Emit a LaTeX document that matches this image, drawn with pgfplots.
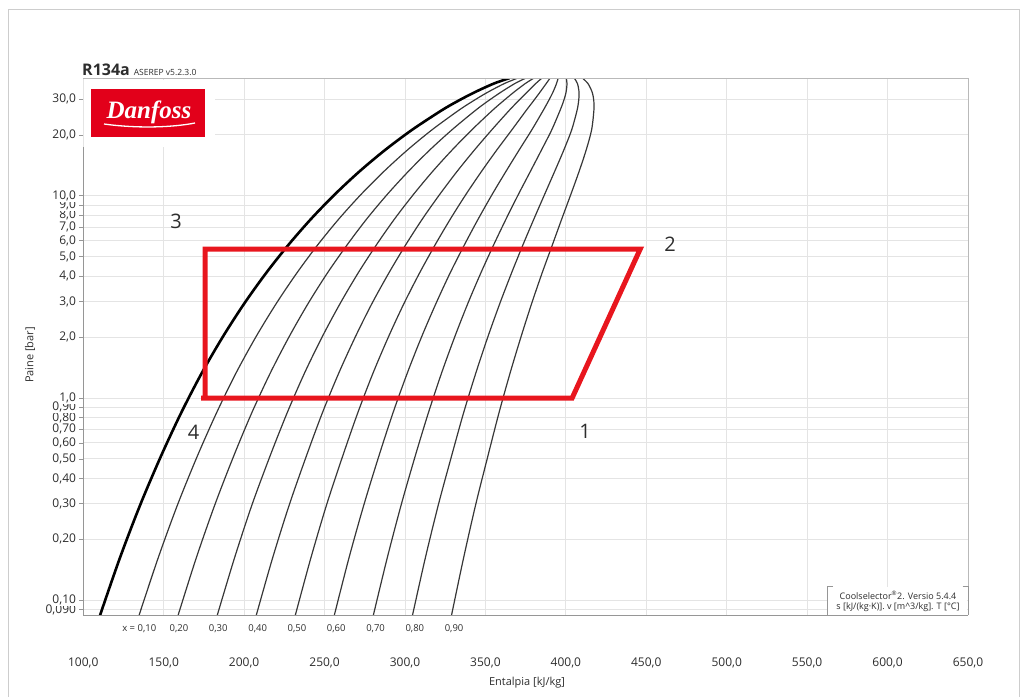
\documentclass[border=0pt]{standalone}
\usepackage{fontspec}
\setmainfont{Open Sans}
\newfontfamily\logofont{Liberation Serif}
\usepackage{pgfplots}
\usepackage{pgfplotstable}
\pgfplotsset{compat=1.18}

\definecolor{gridgray}{RGB}{228,228,228}
\definecolor{axisgray}{RGB}{150,150,150}
\definecolor{bordergray}{RGB}{185,185,185}
\definecolor{framegray}{RGB}{205,205,205}
\definecolor{cyclered}{RGB}{232,22,30}
\definecolor{logored}{RGB}{226,0,26}
\definecolor{curvegray}{RGB}{55,55,55}
\definecolor{labelgray}{RGB}{45,45,45}

% R134a saturation: pressure [bar], liquid enthalpy and lines of constant quality x = 0.1 ... 0.9 [kJ/kg]
\pgfplotstableread{
p      hl    q1    q2    q3    q4    q5    q6    q7    q8    q9
0.0799 109.4 133.7 158.0 182.4 206.7 231.0 255.3 279.6 304.0 328.3
0.1591 122.4 146.2 169.9 193.7 217.4 241.2 264.9 288.7 312.4 336.2
0.2940 135.2 158.4 181.6 204.7 227.9 251.1 274.3 297.5 320.6 343.8
0.5121 148.1 170.7 193.3 215.9 238.5 261.1 283.6 306.2 328.8 351.4
0.8438 160.8 182.8 204.7 226.7 248.6 270.6 292.5 314.5 336.4 358.4
1.3273 173.6 194.9 216.2 237.5 258.8 280.1 301.4 322.7 344.0 365.3
2.0060 186.7 207.3 227.9 248.5 269.1 289.7 310.3 330.9 351.5 372.1
2.9280 200.0 219.9 239.7 259.6 279.4 299.3 319.2 339.0 358.9 378.7
4.1460 213.6 232.7 251.7 270.8 289.9 309.0 328.0 347.1 366.2 385.2
5.7170 227.5 245.7 264.0 282.2 300.4 318.7 336.9 355.1 373.3 391.6
7.7020 241.7 259.0 276.3 293.6 310.9 328.3 345.6 362.9 380.2 397.5
10.166 256.4 272.7 289.0 305.3 321.6 337.9 354.2 370.5 386.8 403.1
13.179 271.6 286.8 302.0 317.1 332.3 347.5 362.7 377.9 393.0 408.2
16.818 287.5 301.4 315.3 329.2 343.1 357.0 370.9 384.8 398.7 412.6
21.168 304.3 316.7 329.1 341.5 353.9 366.4 378.8 391.2 403.6 416.0
26.332 322.4 333.0 343.5 354.1 364.6 375.2 385.8 396.3 406.9 417.4
29.260 332.3 341.8 351.2 360.7 370.1 379.6 389.0 398.5 407.9 417.4
32.442 343.1 351.2 359.4 367.5 375.7 383.8 391.9 400.1 408.2 416.4
35.910 355.3 361.8 368.3 374.8 381.3 387.8 394.2 400.7 407.2 413.7
38.180 365.0 370.0 375.1 380.1 385.1 390.2 395.2 400.2 405.2 410.3
}\satdata

\tikzset{qlab/.style={font=\fontsize{9.5}{10}\selectfont, text=labelgray, anchor=base, yshift=-16.5pt}}

\begin{document}
\begin{tikzpicture}[x=1pt,y=1pt]
\useasboundingbox (0,0) rectangle (1027,696);
% window frame
\draw[framegray, line width=1pt] (8,-2) -- (8,686.5) -- (1019,686.5) -- (1019,-2);

\begin{axis}[
  at={(83.3pt,80.7pt)}, anchor=south west,
  scale only axis, width=884.7pt, height=536.3pt,
  xmin=100, xmax=650, ymin=0.0843, ymax=37.8,
  ymode=log, log basis y=10,
  axis line style={draw=none},
  grid=major, major grid style={gridgray, line width=1pt},
  yminorticks=false, xminorticks=false,
  xtick={100,150,200,250,300,350,400,450,500,550,600,650},
  xticklabels={{100,0},{150,0},{200,0},{250,0},{300,0},{350,0},{400,0},{450,0},{500,0},{550,0},{600,0},{650,0}},
  ytick={0.09,0.1,0.2,0.3,0.4,0.5,0.6,0.7,0.8,0.9,1,2,3,4,5,6,7,8,9,10,20,30},
  yticklabels={{0,090},{0,10},{0,20},{0,30},{0,40},{0,50},{0,60},{0,70},{0,80},{0,90},{1,0},{2,0},{3,0},{4,0},{5,0},{6,0},{7,0},{8,0},{9,0},{10,0},{20,0},{30,0}},
  ytick pos=left, xtick pos=bottom,
  tick align=outside, major tick length=4pt,
  xtick style={draw=none},
  ytick style={axisgray, line width=0.8pt},
  yticklabel style={font=\fontsize{12}{12}\selectfont, text=labelgray, fill=white, inner sep=0.6pt, xshift=-2.5pt},
  xticklabel style={font=\fontsize{12}{12}\selectfont, text=labelgray, anchor=base, yshift=-47pt},
  clip mode=individual,
]
% saturated liquid line
\addplot[black, line width=2.6pt, smooth] table[x=hl, y=p] {\satdata};
% constant quality lines
\pgfplotsinvokeforeach{q1,q2,q3,q4,q5,q6,q7,q8,q9}{
  \addplot[curvegray, line width=1.2pt, smooth] table[x=#1, y=p] {\satdata};
}
% refrigeration cycle
\addplot[cyclered, line width=5pt, line join=miter] coordinates {
  (175.7,1.0) (175.7,5.45) (446.2,5.45) (403.9,1.0) (173.2,1.0)
};
% quality labels along the lower edge
\node[qlab] at (axis cs:134.8,0.0843) {x = 0,10};
\node[qlab] at (axis cs:159.5,0.0843) {0,20};
\node[qlab] at (axis cs:183.9,0.0843) {0,30};
\node[qlab] at (axis cs:208.4,0.0843) {0,40};
\node[qlab] at (axis cs:232.8,0.0843) {0,50};
\node[qlab] at (axis cs:257.2,0.0843) {0,60};
\node[qlab] at (axis cs:281.7,0.0843) {0,70};
\node[qlab] at (axis cs:306.1,0.0843) {0,80};
\node[qlab] at (axis cs:330.5,0.0843) {0,90};
\end{axis}

% logo panel
\fill[white] (83.9,549) rectangle (215,615.5);
\fill[logored] (91,559) rectangle (205,607);
\node[text=white, font=\logofont\bfseries\itshape\fontsize{25}{25}\selectfont] at (149,584) {Danfoss};
\draw[white, line width=1.3pt] (104,572) .. controls (140,567) and (175,569) .. (195,573);

% plot frame
\draw[bordergray, line width=1pt] (83.3,617) -- (968,617) -- (968,80.7);
\draw[axisgray, line width=1.5pt] (83.3,549) -- (83.3,80.7) -- (968,80.7);

% title
\node[anchor=base west, inner sep=0pt, text=labelgray] at (82,620) {\fontsize{16}{16}\selectfont\bfseries R134a\hspace{4pt}\fontsize{8.5}{9}\selectfont\mdseries ASEREP v5.2.3.0};

% axis titles
\node[rotate=90, font=\fontsize{11}{11}\selectfont, text=labelgray] at (30,341) {Paine [bar]};
\node[font=\fontsize{11}{11}\selectfont, text=labelgray] at (527,13) {Entalpia [kJ/kg]};

% cycle state numbers
\node[font=\fontsize{20}{20}\selectfont, text=labelgray] at (176,475) {3};
\node[font=\fontsize{20}{20}\selectfont, text=labelgray] at (670,452) {2};
\node[font=\fontsize{20}{20}\selectfont, text=labelgray] at (193.5,264) {4};
\node[font=\fontsize{20}{20}\selectfont, text=labelgray] at (585,265) {1};

% version box
\fill[white] (827.7,80.7) rectangle (967.3,109.3);
\draw[axisgray, line width=0.8pt] (833,109.3) -- (827.7,109.3) -- (827.7,80.7);
\draw[axisgray, line width=0.8pt] (962.5,109.3) -- (968,109.3) -- (968,80.7);
\node[font=\fontsize{9}{9}\selectfont, text=labelgray] at (898,101) {Coolselector\textsuperscript{\textregistered}2. Versio 5.4.4};
\node[font=\fontsize{9}{9}\selectfont, text=labelgray] at (898,89) {s [kJ/(kg·K)]. v [m\textasciicircum 3/kg]. T [°C]};
\end{tikzpicture}
\end{document}
